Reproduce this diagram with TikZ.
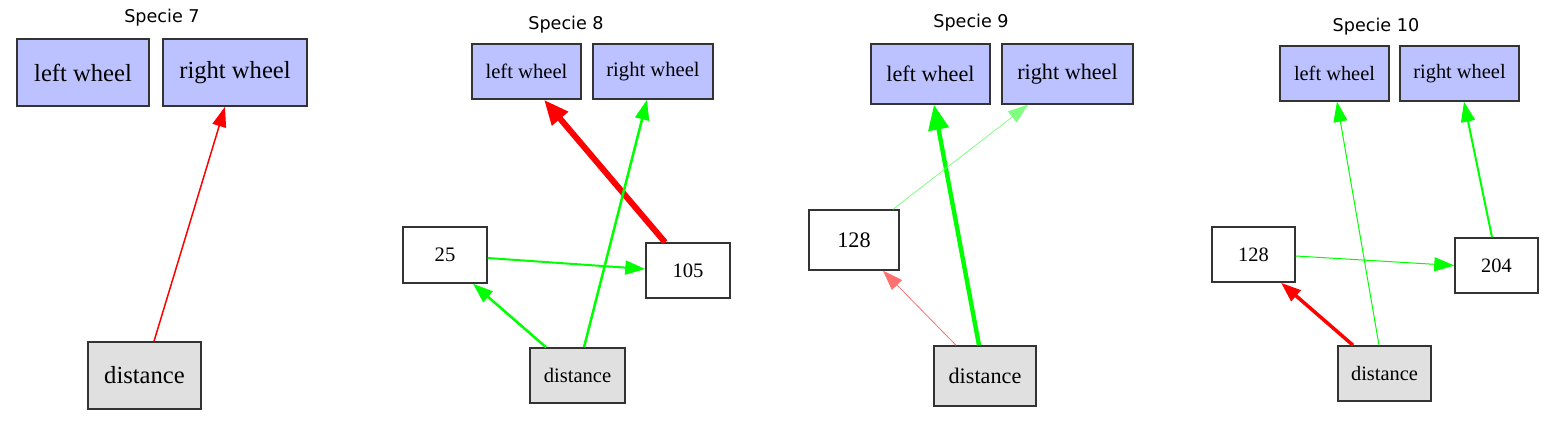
\documentclass[tikz,border=0pt]{standalone}
\usepackage{fontspec}
\setmainfont{Liberation Serif}
\newfontfamily\titlefont{DejaVu Sans}
\usetikzlibrary{arrows.meta}
\definecolor{wheelblue}{HTML}{BBC2FF}
\definecolor{distgray}{HTML}{E0E0E0}
\definecolor{edgered}{HTML}{FF0000}
\definecolor{edgegreen}{HTML}{00FF00}
\definecolor{palegreen}{HTML}{80FF80}
\definecolor{palered}{HTML}{FF7070}
\definecolor{boxline}{HTML}{333333}
\tikzset{
  box/.style={draw=boxline, line width=0.75pt, inner sep=0pt, anchor=center, text=black},
  wheelbox/.style={box, fill=wheelblue},
  distbox/.style={box, fill=distgray},
  hidbox/.style={box, fill=white},
  ttl/.style={font=\titlefont\fontsize{8.8}{10}\selectfont, inner sep=0pt},
  fA/.style={font=\fontsize{12.3}{14}\selectfont},
  fB/.style={font=\fontsize{10.3}{12}\selectfont},
  fC/.style={font=\fontsize{11.1}{13}\selectfont},
  fD/.style={font=\fontsize{10.2}{12}\selectfont},
  con/.style={-{Triangle[length=10pt,width=7pt]}},
  bigcon/.style={-{Triangle[length=12.5pt,width=10pt]}},
}
\begin{document}
\begin{tikzpicture}[x=0.5pt,y=-0.5pt]
\useasboundingbox (0,0) rectangle (1554,427);
% ---------- Specie 7
\node[ttl] (t7) at (162,18) {Specie 7};
\node[wheelbox,fA,minimum width=66pt,minimum height=33.5pt] (lw7) at (83,72.5) {left wheel};
\node[wheelbox,fA,minimum width=72pt,minimum height=33.5pt] (rw7) at (235,72.5) {right wheel};
\node[distbox,fA,minimum width=56.5pt,minimum height=33.5pt] (d7) at (144.5,375.5) {distance};
\draw[con,edgered,line width=0.75pt] ([xshift=4.75pt]d7.north) -- ([xshift=-5pt]rw7.south);
% ---------- Specie 8
\node[ttl] (t8) at (566,25) {Specie 8};
\node[wheelbox,fB,minimum width=54.5pt,minimum height=27.5pt] (lw8) at (526.5,71.5) {left wheel};
\node[wheelbox,fB,minimum width=60pt,minimum height=27.5pt] (rw8) at (653,71.5) {right wheel};
\node[hidbox,fB,minimum width=42pt,minimum height=28pt] (n25) at (445,255) {25};
\node[hidbox,fB,minimum width=42pt,minimum height=27.5pt] (n105) at (688,270.5) {105};
\node[distbox,fB,minimum width=47.5pt,minimum height=27.5pt] (d8) at (577.5,375.5) {distance};
\draw[bigcon,edgered,line width=3pt] ([xshift=-11.5pt]n105.north) -- ([xshift=8.75pt]lw8.south);
\draw[con,edgegreen,line width=1.25pt] ([xshift=3.25pt]d8.north) -- ([xshift=-3pt]rw8.south);
\draw[con,edgegreen,line width=1pt] ([yshift=-1.5pt]n25.east) -- ([yshift=0.75pt]n105.west);
\draw[con,edgegreen,line width=1.25pt] ([xshift=-15.75pt]d8.north) -- ([xshift=14pt]n25.south);
% ---------- Specie 9
\node[ttl] (t9) at (971,23) {Specie 9};
\node[wheelbox,fC,minimum width=59.5pt,minimum height=30pt] (lw9) at (930.5,74) {left wheel};
\node[wheelbox,fC,minimum width=65.5pt,minimum height=30pt] (rw9) at (1067.5,74) {right wheel};
\node[hidbox,fC,minimum width=45pt,minimum height=30pt] (n128a) at (854,240) {128};
\node[distbox,fC,minimum width=51pt,minimum height=30pt] (d9) at (985,376) {distance};
\draw[bigcon,edgegreen,line width=2.2pt] ([xshift=-3pt]d9.north) -- ([xshift=1.75pt]lw9.south);
\draw[con,palegreen,line width=0.4pt] ([xshift=19.5pt]n128a.north) -- ([xshift=-19.75pt]rw9.south);
\draw[con,palered,line width=0.4pt] ([xshift=-14.5pt]d9.north) -- ([xshift=14.5pt]n128a.south);
% ---------- Specie 10
\node[ttl] (t10) at (1376,27) {Specie 10};
\node[wheelbox,fD,minimum width=54.5pt,minimum height=27.5pt] (lw10) at (1334.5,73.5) {left wheel};
\node[wheelbox,fD,minimum width=59.5pt,minimum height=27.5pt] (rw10) at (1459.5,73.5) {right wheel};
\node[hidbox,fD,minimum width=41.5pt,minimum height=27.5pt] (n128b) at (1253.5,254.5) {128};
\node[hidbox,fD,minimum width=41.5pt,minimum height=27.5pt] (n204) at (1496.5,265.5) {204};
\node[distbox,fD,minimum width=46.5pt,minimum height=27.5pt] (d10) at (1384.5,373.5) {distance};
\draw[con,edgegreen,line width=0.5pt] ([xshift=-2.75pt]d10.north) -- ([xshift=1.25pt]lw10.south);
\draw[con,edgegreen,line width=1pt] ([xshift=-2.25pt]n204.north) -- ([xshift=2.25pt]rw10.south);
\draw[con,edgegreen,line width=0.5pt] ([yshift=-0.75pt]n128b.east) -- (n204.west);
\draw[con,edgered,line width=1.75pt] ([xshift=-15.75pt]d10.north) -- ([xshift=13.75pt]n128b.south);
\end{tikzpicture}
\end{document}
